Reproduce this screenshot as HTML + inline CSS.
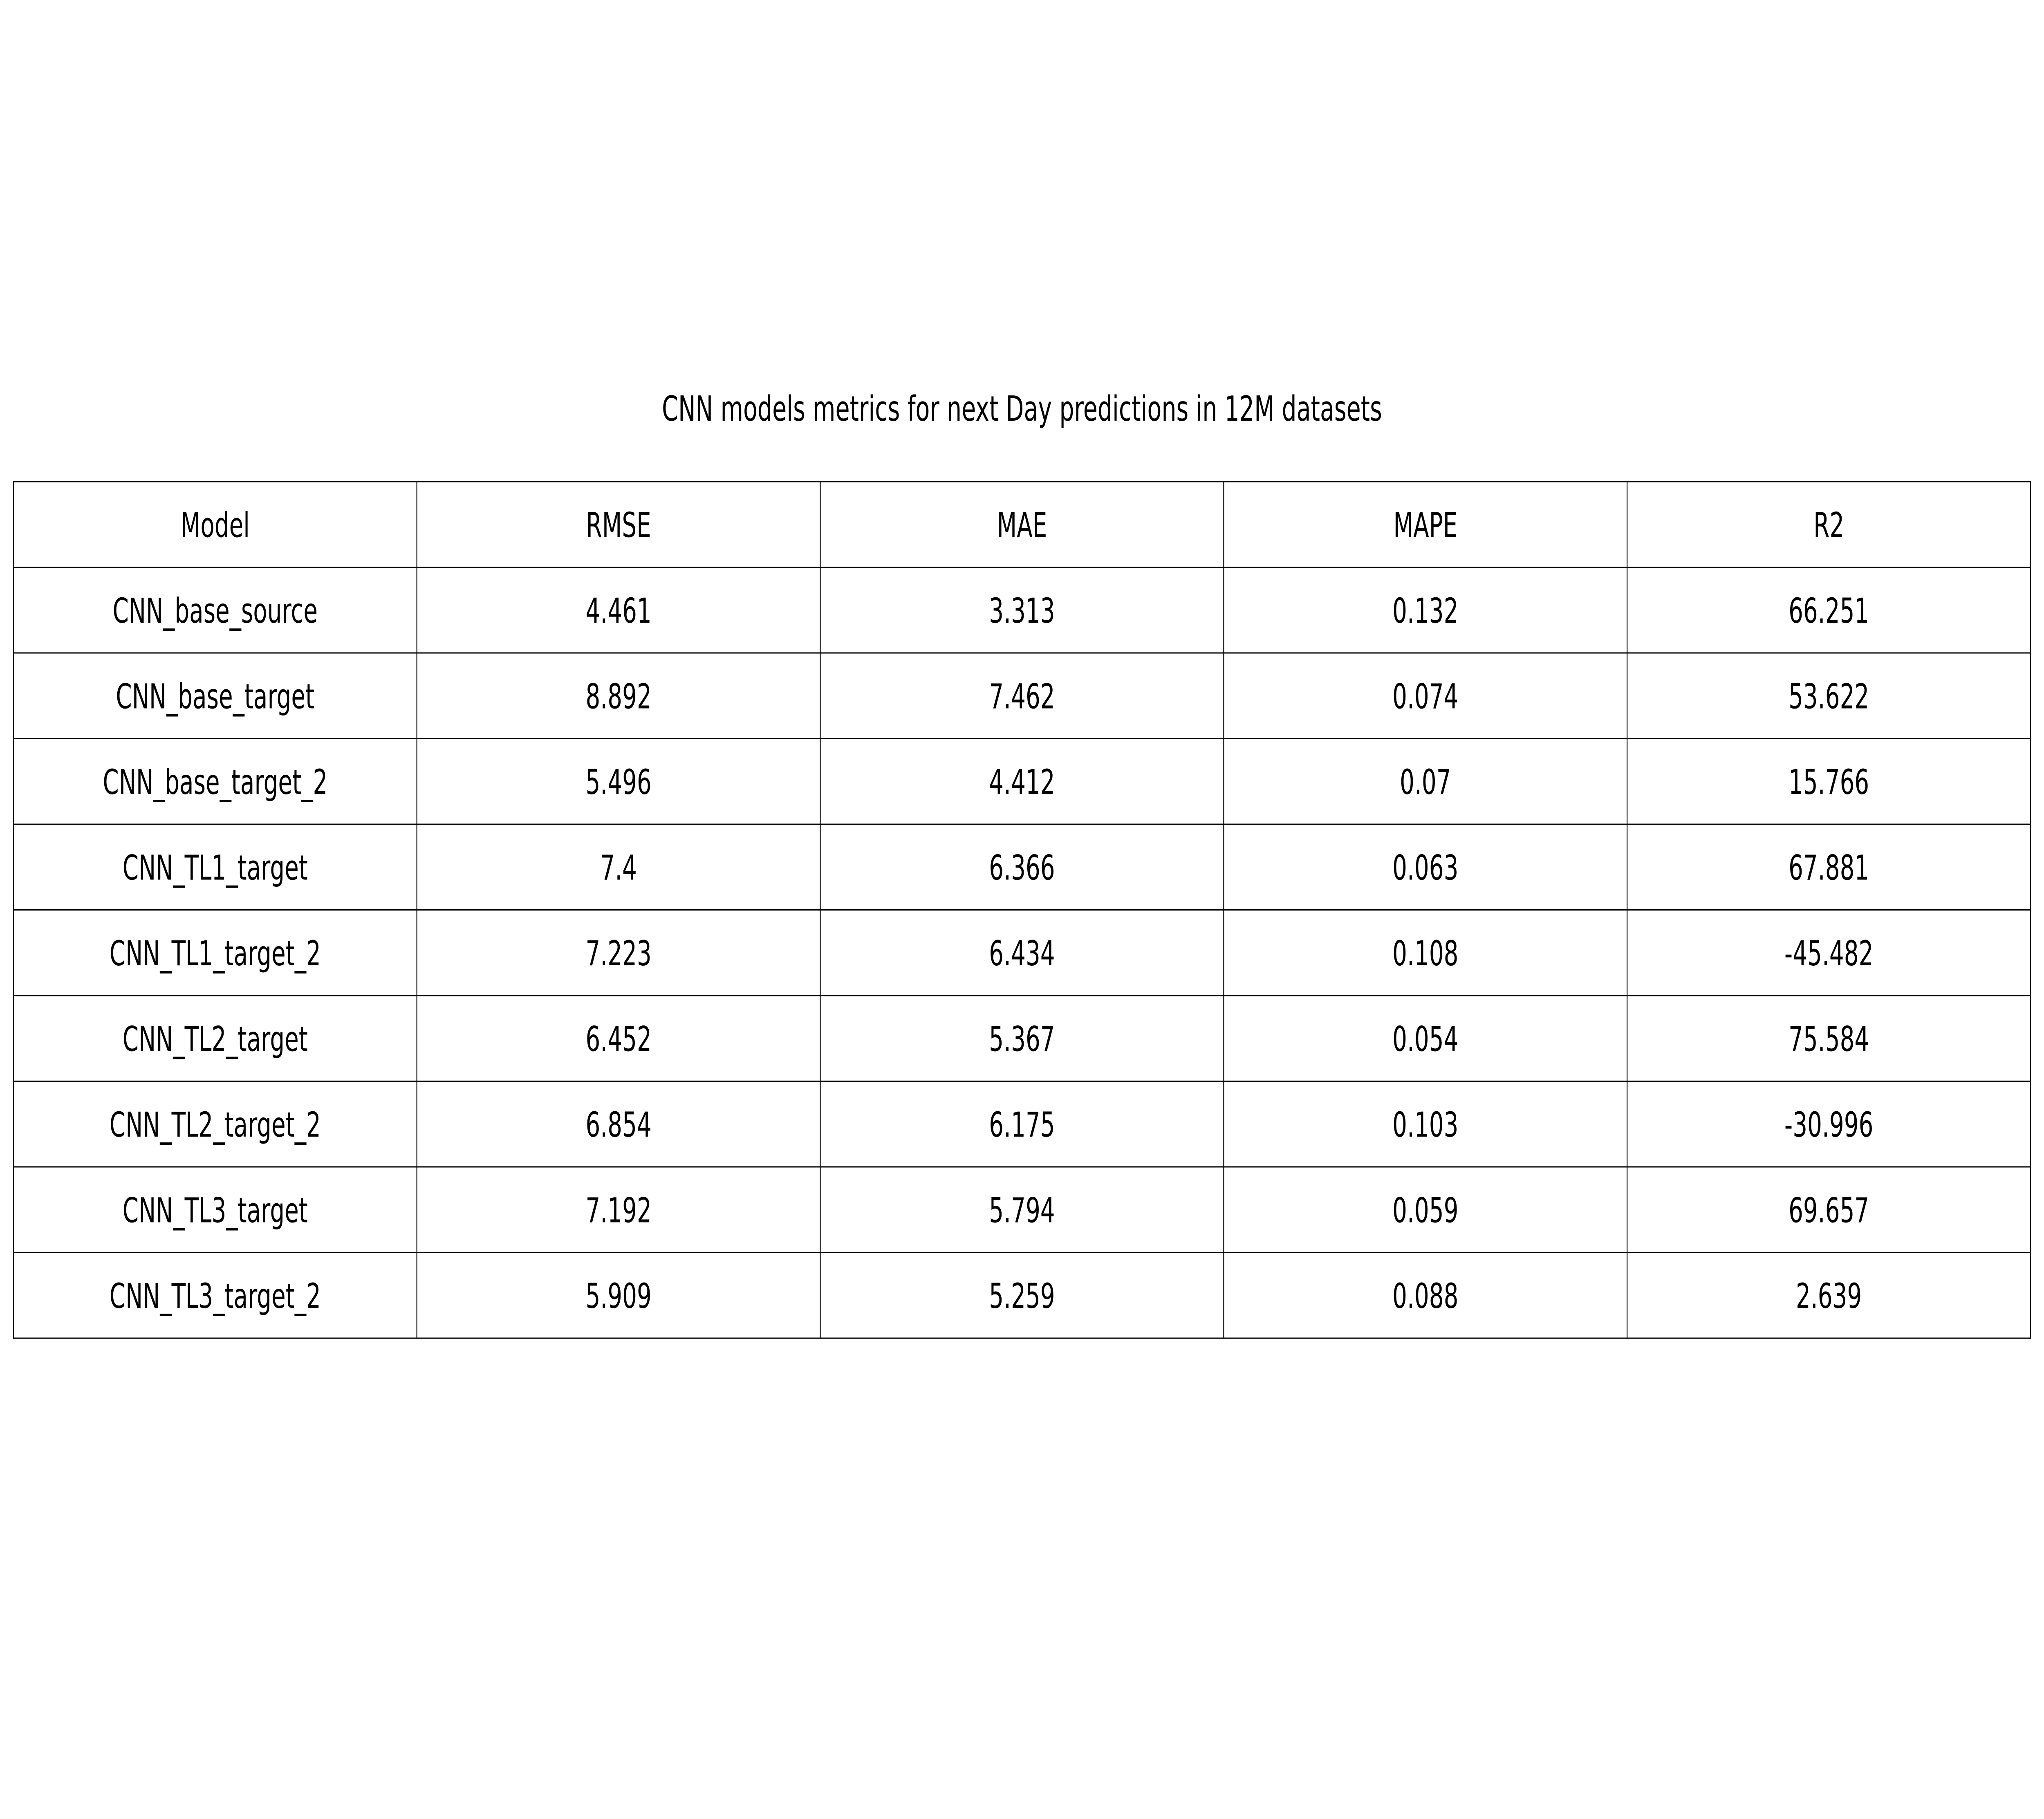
<!DOCTYPE html>
<html><head><meta charset="utf-8"><style>
html,body{margin:0;padding:0;background:#fff;overflow:hidden;width:100%;height:100%}
svg{display:block;position:fixed;left:0;top:0;width:100vw;height:100vh}
text{font-family:"DejaVu Sans","Liberation Sans",sans-serif;fill:#000}
</style></head><body>
<svg id="chart" viewBox="0 0 7449 4449" preserveAspectRatio="none" xmlns="http://www.w3.org/2000/svg">
<rect x="0" y="0" width="7449" height="4449" fill="#fff"/>
<text x="3724.5" y="1029" text-anchor="middle" font-size="85">CNN models metrics for next Day predictions in 12M datasets</text>
<g id="tbl"></g>
</svg>
<script>
const headers = ["Model","RMSE","MAE","MAPE","R2"];
const models = ["CNN_base_source","CNN_base_target","CNN_base_target_2","CNN_TL1_target","CNN_TL1_target_2","CNN_TL2_target","CNN_TL2_target_2","CNN_TL3_target","CNN_TL3_target_2"];
const rmse = ["4.461","8.892","5.496","7.4","7.223","6.452","6.854","7.192","5.909"];
const mae = ["3.313","7.462","4.412","6.366","6.434","5.367","6.175","5.794","5.259"];
const mape = ["0.132","0.074","0.07","0.063","0.108","0.054","0.103","0.059","0.088"];
const r2 = ["66.251","53.622","15.766","67.881","-45.482","75.584","-30.996","69.657","2.639"];
const NS = "http://www.w3.org/2000/svg";
const tbl = document.getElementById('tbl');
const x0 = 49, y0 = 1178, colW = 1470.2, rowH = 209.5;
function addCell(r, c, text, name) {
  const g = document.createElementNS(NS, 'g');
  
  
  const rect = document.createElementNS(NS, 'rect');
  rect.setAttribute('x', x0 + c * colW);
  rect.setAttribute('y', y0 + r * rowH);
  rect.setAttribute('width', colW);
  rect.setAttribute('height', rowH);
  rect.setAttribute('fill', '#fff');
  rect.setAttribute('stroke', '#000');
  rect.setAttribute('stroke-width', '3');
  g.appendChild(rect);
  const t = document.createElementNS(NS, 'text');
  t.setAttribute('x', x0 + c * colW + colW / 2);
  t.setAttribute('y', y0 + r * rowH + rowH / 2 + 31);
  t.setAttribute('text-anchor', 'middle');
  t.setAttribute('font-size', '84');
  t.textContent = text;
  g.appendChild(t);
  tbl.appendChild(g);
}
headers.forEach((h, c) => addCell(0, c, h, 'header-' + h.toLowerCase()));
const cols = [models, rmse, mae, mape, r2];
models.forEach((m, i) => {
  cols.forEach((col, c) => addCell(i + 1, c, col[i], 'cell-' + headers[c].toLowerCase() + '-' + (i + 1)));
});
</script>
</body></html>
